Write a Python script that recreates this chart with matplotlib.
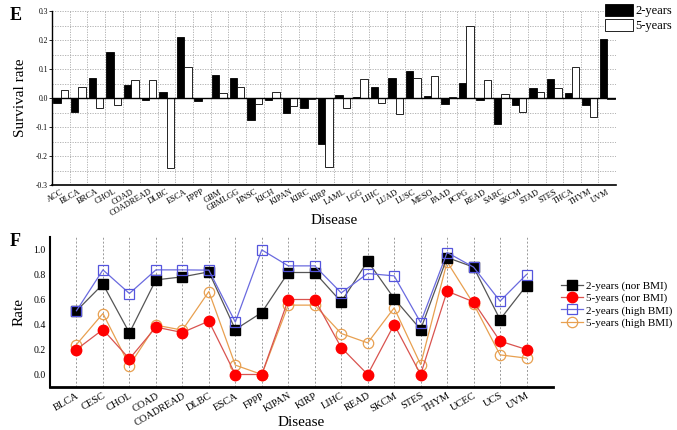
import matplotlib
matplotlib.use("Agg")
import matplotlib.pyplot as plt
import numpy as np
from matplotlib.patches import Patch

plt.rcParams['font.family'] = ['Liberation Serif', 'DejaVu Serif']

# ---- Panel E data ----
diseases_e = ["ACC", "BLCA", "BRCA", "CHOL", "COAD", "COADREAD", "DLBC", "ESCA", "FPPP",
              "GBM", "GBMLGG", "HNSC", "KICH", "KIPAN", "KIRC", "KIRP", "LAML", "LGG",
              "LIHC", "LUAD", "LUSC", "MESO", "PAAD", "PCPG", "READ", "SARC", "SKCM",
              "STAD", "STES", "THCA", "THYM", "UVM"]
two_years = [-0.017, -0.048, 0.069, 0.158, 0.044, -0.006, 0.021, 0.212, -0.012,
             0.079, 0.070, -0.076, -0.008, -0.052, -0.036, -0.160, 0.009, 0.005,
             0.038, 0.068, 0.093, 0.007, -0.021, 0.051, -0.006, -0.091, -0.024,
             0.036, 0.067, 0.017, -0.024, 0.203]
five_years = [0.028, 0.037, -0.035, -0.024, 0.062, 0.062, -0.243, 0.107, 0.0,
              0.016, 0.037, -0.022, 0.022, -0.026, -0.003, -0.238, -0.036, 0.064,
              -0.016, -0.055, 0.069, 0.077, 0.003, 0.247, 0.062, 0.015, -0.049,
              0.019, 0.036, 0.107, -0.064, -0.004]
e_yticks = [-0.3, -0.2, -0.1, 0.0, 0.1, 0.2, 0.3]

# ---- Panel F data ----
diseases_f = ["BLCA", "CESC", "CHOL", "COAD", "COADREAD", "DLBC", "ESCA", "FPPP", "KIPAN",
              "KIRP", "LIHC", "READ", "SKCM", "STES", "THYM", "UCEC", "UCS", "UVM"]
two_nor = [0.509, 0.723, 0.333, 0.757, 0.781, 0.821, 0.360, 0.496, 0.816,
           0.816, 0.581, 0.907, 0.608, 0.360, 0.936, 0.859, 0.440, 0.712]
five_nor = [0.200, 0.360, 0.125, 0.379, 0.336, 0.427, 0.0, 0.0, 0.600,
            0.600, 0.216, 0.0, 0.400, 0.0, 0.667, 0.581, 0.267, 0.200]
two_high = [0.510, 0.837, 0.648, 0.837, 0.837, 0.835, 0.419, 0.997, 0.869,
            0.869, 0.653, 0.808, 0.789, 0.416, 0.976, 0.859, 0.587, 0.800]
five_high = [0.240, 0.488, 0.072, 0.395, 0.355, 0.664, 0.075, 0.0, 0.555,
             0.555, 0.328, 0.253, 0.533, 0.080, 0.901, 0.565, 0.157, 0.131]
f_yticks = [0.0, 0.2, 0.4, 0.6, 0.8, 1.0]

W, H = 677, 430
fig = plt.figure(figsize=(W / 100, H / 100), dpi=100)

def fx(px):
    return px / W

def fy(py):
    return 1 - py / H

# ---------------- Panel E ----------------
E_top, E_bot = 11, 185
axE = fig.add_axes([fx(52), fy(E_bot), fx(616) - fx(52), fy(E_top) - fy(E_bot)])
x = np.arange(len(diseases_e))
w = 0.42
axE.bar(x - w / 2, two_years, width=w, color='black', edgecolor='black', linewidth=0.6, zorder=3)
axE.bar(x + w / 2, five_years, width=w, color='white', edgecolor='black', linewidth=0.6, zorder=3)
axE.axhline(0, color='black', linewidth=1.0, zorder=4)
axE.set_xlim(-0.5, len(diseases_e) - 0.5)
axE.set_ylim(-0.3, 0.3)
axE.set_yticks(e_yticks)
axE.set_yticklabels([f"{v:.1f}" for v in e_yticks], fontsize=5.5)
for b in np.arange(0.5, len(diseases_e), 1.0):
    axE.axvline(b, color='#aaaaaa', linestyle=(0, (1.5, 1.5)), linewidth=0.6, zorder=1)
for hy in np.arange(-0.25, 0.31, 0.05):
    axE.axhline(hy, color='#aaaaaa', linestyle=(0, (1.5, 1.5)), linewidth=0.6, zorder=1)
axE.set_xticks(x)
axE.set_xticklabels(diseases_e, rotation=30, ha='right', rotation_mode='anchor', fontsize=6)
axE.tick_params(axis='x', length=0, pad=2)
axE.tick_params(axis='y', length=2, width=0.6, pad=1)
for s in ['top', 'right']:
    axE.spines[s].set_visible(False)
axE.spines['left'].set_linewidth(1.0)
axE.spines['bottom'].set_linewidth(1.2)
axE.set_ylabel("Survival rate", fontsize=11, labelpad=6)
axE.set_xlabel("Disease", fontsize=11, va='center')
axE.xaxis.set_label_coords(0.5, (E_bot - 220) / (E_bot - E_top))

handlesE = [Patch(facecolor='black', edgecolor='black', linewidth=0.6),
            Patch(facecolor='white', edgecolor='black', linewidth=0.6)]
fig.legend(handlesE, ["2-years", "5-years"], loc='upper left',
           bbox_to_anchor=(fx(605), fy(4)), frameon=False, fontsize=9,
           handlelength=2.2, handleheight=1.1, handletextpad=0.25,
           labelspacing=0.12, borderpad=0, borderaxespad=0)

fig.text(fx(10), fy(15), "E", fontsize=13, fontweight='bold', va='center', ha='left')

# ---------------- Panel F ----------------
F_top, F_bot = 237, 387
axF = fig.add_axes([fx(50), fy(F_bot), fx(553) - fx(50), fy(F_top) - fy(F_bot)])
xf = np.arange(len(diseases_f))
for xi in xf:
    axF.axvline(xi, color='#999999', linestyle=(0, (2, 2)), linewidth=0.7, zorder=1)
axF.plot(xf, two_nor, color='#555555', linewidth=0.9, marker='s', markersize=6.5,
         markerfacecolor='black', markeredgecolor='black', zorder=4, label="2-years (nor BMI)")
axF.plot(xf, five_nor, color='#d9534f', linewidth=0.9, marker='o', markersize=7.5,
         markerfacecolor='#ff0000', markeredgecolor='#ff0000', zorder=3, label="5-years (nor BMI)")
axF.plot(xf, two_high, color='#6a6adf', linewidth=0.9, marker='s', markersize=6.5,
         markerfacecolor='none', markeredgecolor='#5555dd', markeredgewidth=0.9, zorder=5,
         label="2-years (high BMI)")
axF.plot(xf, five_high, color='#e8a050', linewidth=0.9, marker='o', markersize=7.5,
         markerfacecolor='none', markeredgecolor='#e8a050', markeredgewidth=0.9, zorder=2,
         label="5-years (high BMI)")
axF.set_xlim(-1, len(diseases_f))
axF.set_ylim(-0.1, 1.1)
axF.set_yticks(f_yticks)
axF.set_yticklabels([f"{v:.1f}" for v in f_yticks], fontsize=7)
axF.set_xticks(xf)
axF.set_xticklabels(diseases_f, rotation=30, ha='right', rotation_mode='anchor', fontsize=7.5)
axF.tick_params(axis='x', length=0, pad=3)
axF.tick_params(axis='y', length=0, pad=3)
for s in ['top', 'right']:
    axF.spines[s].set_visible(False)
axF.spines['left'].set_linewidth(1.5)
axF.spines['bottom'].set_linewidth(2.0)
axF.set_ylabel("Rate", fontsize=11, labelpad=6)
axF.set_xlabel("Disease", fontsize=11, va='center')
axF.xaxis.set_label_coords(0.5, (F_bot - 422) / (F_bot - F_top))

fig.legend(*axF.get_legend_handles_labels(), loc='upper left',
           bbox_to_anchor=(fx(561), fy(281)), frameon=False, fontsize=8,
           handlelength=2.0, handletextpad=0.25, labelspacing=0.2,
           borderpad=0, borderaxespad=0)

fig.text(fx(10), fy(242), "F", fontsize=13, fontweight='bold', va='center', ha='left')

fig.savefig("out.png", dpi=100)
